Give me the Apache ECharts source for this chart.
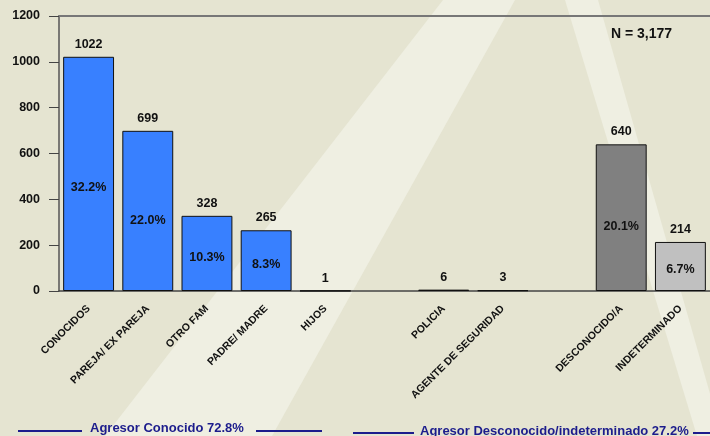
<!DOCTYPE html>
<html><head><meta charset="utf-8">
<script src="https://cdn.jsdelivr.net/npm/echarts@6/dist/echarts.min.js"></script>
<style>html,body{margin:0;padding:0;background:#E5E4D1;}#c{width:710px;height:436px;}</style>
</head><body><div id="c"></div>
<script>
const categories = ['CONOCIDOS','PAREJA/ EX PAREJA','OTRO FAM','PADRE/ MADRE','HIJOS','','POLICIA','AGENTE DE SEGURIDAD','','DESCONOCIDO/A','INDETERMINADO'];
const counts = [1022, 699, 328, 265, 1, null, 6, 3, null, 640, 214];
const percents = ['32.2%','22.0%','10.3%','8.3%','','','','','','20.1%','6.7%'];
const barColors = ['#3880FF','#3880FF','#3880FF','#3880FF','#3880FF','#3880FF','#2E4A24','#111111','#3880FF','#808080','#C0C0C0'];
const yTicks = {min:0, max:1200, interval:200};
const totalLabel = 'N = 3,177';
const groupLabels = ['Agresor Conocido 72.8%','Agresor Desconocido/indeterminado 27.2%'];

const font = '"Liberation Sans", Arial, sans-serif';
const chart = echarts.init(document.getElementById('c'));
const navy = '#1C1C8C';
chart.setOption({
  backgroundColor: '#E5E4D1',
  animation: false,
  graphic: [
    {type:'polygon', z:-10, shape:{points:[[443,0],[515,0],[272,436],[105,436]]}, style:{fill:'#EFEFE2'}},
    {type:'polygon', z:-10, shape:{points:[[565,0],[598,0],[722,436],[697,436]]}, style:{fill:'#EFEFE2'}},
    {type:'text', left:611, top:27, style:{text:totalLabel, font:'bold 14px '+font, fill:'#111'}},
    {type:'line', shape:{x1:18,y1:431,x2:82,y2:431}, style:{stroke:navy, lineWidth:2}},
    {type:'line', shape:{x1:256,y1:431,x2:322,y2:431}, style:{stroke:navy, lineWidth:2}},
    {type:'text', left:90, top:422, style:{text:groupLabels[0], font:'bold 13px '+font, fill:navy}},
    {type:'line', shape:{x1:353,y1:433,x2:414,y2:433}, style:{stroke:navy, lineWidth:2}},
    {type:'line', shape:{x1:693,y1:433,x2:712,y2:433}, style:{stroke:navy, lineWidth:2}},
    {type:'text', left:420, top:425, style:{text:groupLabels[1], font:'bold 13px '+font, fill:navy}}
  ],
  grid: {left:59, right:0, top:16, bottom:145},
  xAxis: [{
    type:'category', data:categories, position:'bottom',
    axisLine:{lineStyle:{color:'#444', width:1.5}},
    axisTick:{alignWithLabel:true, length:8, lineStyle:{color:'#111'}},
    axisLabel:{interval:0, rotate:45, fontSize:10.5, fontWeight:'bold', fontFamily:font, color:'#111', margin:16}
  },{
    type:'category', data:categories, position:'top',
    axisLine:{lineStyle:{color:'#777', width:2}}, axisTick:{show:false}, axisLabel:{show:false}
  }],
  yAxis: {
    type:'value', min:yTicks.min, max:yTicks.max, interval:yTicks.interval,
    axisLine:{show:true, lineStyle:{color:'#555', width:1.5}},
    axisTick:{show:true, length:10, lineStyle:{color:'#444'}},
    splitLine:{show:false},
    axisLabel:{fontSize:12.5, fontWeight:'bold', fontFamily:font, color:'#111', margin:19, formatter:v=>String(v)}
  },
  series: [{
    type:'bar', barCategoryGap:'14%',
    data: counts.map((v,i)=>({value: v==null?'-':v, itemStyle:{color:barColors[i]}})),
    itemStyle:{borderColor:'#111', borderWidth:1},
    label:{show:true, position:['50%','56%'], align:'center', verticalAlign:'middle',
      fontSize:12.5, fontWeight:'bold', fontFamily:font, color:'#111',
      formatter:p=>percents[p.dataIndex]}
  },{
    type:'bar', barCategoryGap:'14%', barGap:'-100%',
    data: counts.map(v=> v==null?'-':v),
    itemStyle:{color:'rgba(0,0,0,0)'},
    label:{show:true, position:'top', distance:6, fontSize:12.5, fontWeight:'bold', fontFamily:font, color:'#111'}
  }]
});
</script></body></html>
